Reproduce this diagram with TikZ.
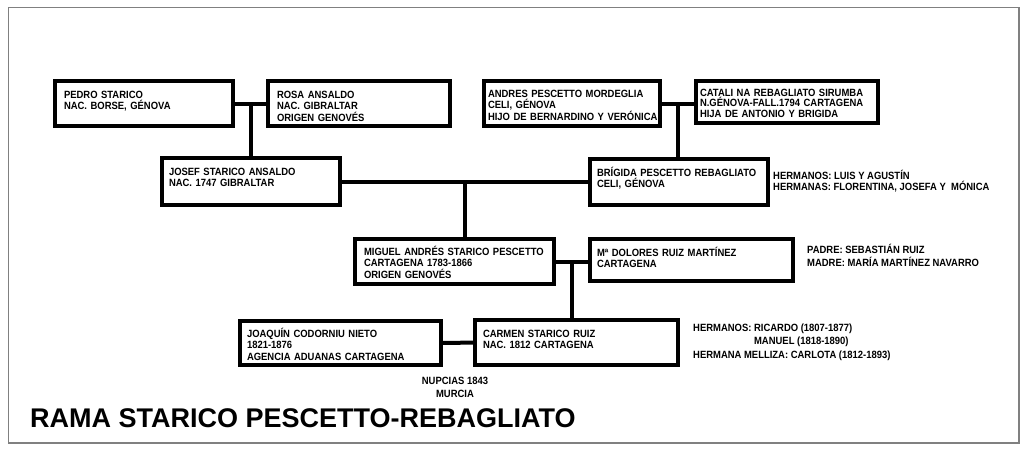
\documentclass[tikz,border=0pt]{standalone}
\usepackage{fontspec}
\setmainfont{Liberation Sans}[FakeStretch=0.9]
\newfontfamily\titulofont{Liberation Sans}
\usepackage{tikz}

\begin{document}
\begin{tikzpicture}[x=1pt, y=-1pt,
    person/.style 2 args={draw, line width=4pt, outer sep=0pt, anchor=north west,
      align=left, inner sep=0pt, text width=#1, text height=17pt, text depth=#2,
      font=\fontsize{10.5}{11.5}\selectfont\bfseries,
      execute at begin node={\leftskip=8pt}},
    indent/.style={execute at begin node={\leftskip=#1}},
    nota/.style={align=left, inner sep=0pt, anchor=base west,
      font=\fontsize{10.5}{11}\selectfont\bfseries},
    link/.style={line width=4pt}]
    \useasboundingbox (0,0) rectangle (1024,452);
    \draw[gray, line width=1.5pt] (8.5,7.5) rectangle (1019,443);
    % abuelos
    \node[person={178pt}{28pt}, indent=9pt] (pedro) at (55,81) {PEDRO STARICO\\NAC. BORSE, GÉNOVA};
    \node[person={182pt}{28pt}, indent=9pt] (rosa) at (268,81) {ROSA ANSALDO\\NAC. GIBRALTAR\\ORIGEN GENOVÉS};
    \node[person={176pt}{29pt}, indent=4pt, text height=16pt] (andres) at (484,81) {ANDRES PESCETTO MORDEGLIA\\CELI, GÉNOVA\\HIJO DE BERNARDINO Y VERÓNICA};
    \node[person={182pt}{27pt}, indent=4pt, text height=15pt,
      font=\fontsize{10.5}{10.5}\selectfont\bfseries] (catalina) at (696,81) {CATALI NA REBAGLIATO SIRUMBA\\N.GÉNOVA-FALL.1794 CARTAGENA\\HIJA DE ANTONIO Y BRIGIDA};
    % padres
    \node[person={178pt}{30pt}, indent=7pt] (josef) at (162,158) {JOSEF STARICO ANSALDO\\NAC. 1747 GIBRALTAR};
    \node[person={178pt}{29pt}, indent=7pt] (brigida) at (590,159) {BRÍGIDA PESCETTO REBAGLIATO\\CELI, GÉNOVA};
    % hijos
    \node[person={199pt}{29pt}, indent=9pt, text height=16pt] (miguel) at (355,239) {MIGUEL ANDRÉS STARICO PESCETTO\\CARTAGENA 1783-1866\\ORIGEN GENOVÉS};
    \node[person={203pt}{25pt}, indent=7pt] (dolores) at (590,239) {Mª DOLORES RUIZ MARTÍNEZ\\CARTAGENA};
    \node[person={201pt}{28pt}, indent=7pt, text height=16pt] (joaquin) at (240,321) {JOAQUÍN CODORNIU NIETO\\1821-1876\\AGENCIA ADUANAS CARTAGENA};
    \node[person={203pt}{28pt}] (carmen) at (475,320) {CARMEN STARICO RUIZ\\NAC. 1812 CARTAGENA};

    % uniones
    \draw[link] (pedro) -- (rosa) coordinate[pos=.5] (pr);
    \draw[link] (pr) -- (pr |- josef.north);
    \draw[link] (andres.east) -- (andres.east -| catalina.west) coordinate[pos=.5] (ac);
    \draw[link] (ac) -- (ac |- brigida.north);
    \draw[link] (josef.east) -- (josef.east -| brigida.west) coordinate[pos=.5] (jb);
    \draw[link] (jb) -- (jb |- miguel.north);
    \draw[link] (miguel.east) -- (miguel.east -| dolores.west) coordinate[pos=.5] (md);
    \draw[link] (md) -- (md |- carmen.north);
    \draw[link] (joaquin) -- (carmen);

    % notas
    \node[nota] (hermanosB) at (773,190) {HERMANOS: LUIS Y AGUSTÍN\\HERMANAS: FLORENTINA, JOSEFA Y~ MÓNICA};
    \node[nota, font=\fontsize{10.5}{13}\selectfont\bfseries] (padresD) at (807,266) {PADRE: SEBASTIÁN RUIZ\\MADRE: MARÍA MARTÍNEZ NAVARRO};
    \node[nota, font=\fontsize{10.5}{13.5}\selectfont\bfseries] (hermanosC) at (693,358) {HERMANOS: RICARDO (1807-1877)\\\phantom{HERMANOS: }MANUEL (1818-1890)\\HERMANA MELLIZA: CARLOTA (1812-1893)};
    \node[nota, align=center, anchor=base, font=\fontsize{10.5}{13}\selectfont\bfseries] (nupcias) at (455,397) {NUPCIAS 1843\\MURCIA};
    \node[anchor=base west, inner sep=0pt, font=\titulofont\fontsize{27}{30}\selectfont\bfseries] (titulo) at (30,427) {RAMA STARICO PESCETTO-REBAGLIATO};
\end{tikzpicture}
\end{document}
